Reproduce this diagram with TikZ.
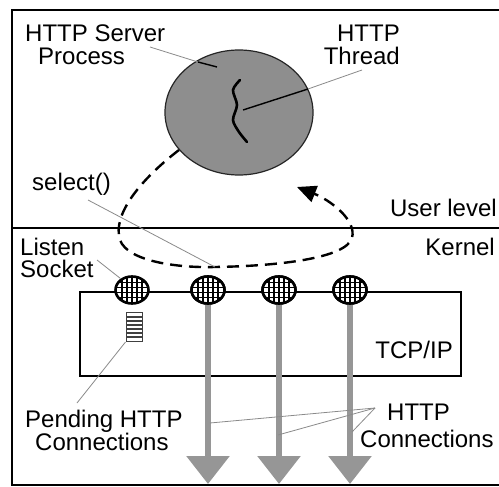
\documentclass[tikz,border=0pt]{standalone}
\usepackage{fontspec}
\setmainfont{Liberation Sans}
\usetikzlibrary{shapes.geometric,arrows.meta}
\definecolor{procgray}{HTML}{8E8E8E}
\definecolor{conngray}{HTML}{969696}
\definecolor{leadgray}{HTML}{8A8A8A}
\newcommand\lblfont{\fontsize{24}{24}\selectfont}
\begin{document}
\begin{tikzpicture}[x=1pt,y=-1pt,
  frameline/.style={line width=2.6pt},
  lbl/.style={font=\lblfont, inner sep=0pt},
  leader/.style={draw=leadgray, line width=0.8pt},
  darklead/.style={draw=black, line width=1.4pt},
  procblob/.style={ellipse, draw=black!85, line width=1.2pt, fill=procgray,
    minimum width=148pt, minimum height=125pt, inner sep=0pt},
  socket/.style={ellipse, draw=black, line width=2.6pt, fill=white,
    minimum width=33pt, minimum height=27pt, inner sep=0pt,
    path picture={
      \foreach \d in {-10,-5,0,5,10}
        \draw[line width=1.6pt] ([xshift=\d pt]path picture bounding box.north)
          -- ([xshift=\d pt]path picture bounding box.south);
      \foreach \d in {-7.5,-2.5,2.5,7.5}
        \draw[line width=1.6pt] ([yshift=\d pt]path picture bounding box.west)
          -- ([yshift=\d pt]path picture bounding box.east);
    }},
  queue/.style={rectangle, draw=black!75, line width=1pt, fill=white,
    minimum width=16pt, minimum height=29pt, inner sep=0pt,
    path picture={
      \foreach \d in {-10,-6,-2,2,6,10}
        \draw[line width=1.1pt] ([yshift=\d pt]path picture bounding box.west)
          -- ([yshift=\d pt]path picture bounding box.east);
    }},
  tcpbox/.style={rectangle, draw=black, line width=2.6pt,
    minimum width=381pt, minimum height=84pt, inner sep=0pt},
  connarrow/.style={draw=conngray, line width=6pt,
    -{Triangle[width=42pt,length=28pt]}},
  loopline/.style={line width=2.4pt, dash pattern=on 12pt off 7pt,
    -{Triangle[width=17pt,length=19pt]}}
]
\useasboundingbox (0,0) rectangle (499,487);
\fill[white] (0,0) rectangle (499,487);
\clip (0,0) rectangle (499,487);

% outer frame and the user/kernel boundary
\draw[frameline] (505,10) -- (12,10) -- (12,485) -- (505,485);
\draw[line width=2.8pt] (12,228) -- (505,228);

% server process with its thread
\node[procblob] (proc) at (239,112.5) {};
\draw[line width=2.6pt, line cap=round]
  plot[smooth] coordinates {(240,80) (233,90) (237,105) (233,120) (239,132) (247,142)};

% labels in user space
\node[lbl, anchor=base west] (srvA) at (25,42) {HTTP Server};
\node[lbl, anchor=base west] (srvB) at (38,65) {Process};
\node[lbl, anchor=base east] (thrA) at (400,42) {HTTP};
\node[lbl, anchor=base east] (thrB) at (400,65) {Thread};
\node[lbl, anchor=base west] (sel) at (32,191) {select()};
\node[lbl, anchor=base east] (user) at (497,217) {User level};
\node[lbl, anchor=base east] (kern) at (495,255) {Kernel};

% leaders in user space
\coordinate (srvL) at (150,47);
\coordinate (srvM) at (198,62);
\coordinate (srvE) at (217,67);
\draw[leader] (srvL) -- (srvM);
\draw[darklead] (srvM) -- (srvE);
\coordinate (thrS) at (243,110);
\coordinate (thrM) at (308,89);
\coordinate (thrE) at (362,70);
\draw[darklead] (thrS) -- (thrM);
\draw[leader] (thrM) -- (thrE);

% kernel side: TCP/IP box
\node[tcpbox] (tcp) at (270.5,334) {};
\node[lbl, anchor=base east] (tcplbl) at (453,358) {TCP/IP};

% connection streams leaving the sockets
\coordinate (e2) at (208,484);
\coordinate (e3) at (279,484);
\coordinate (e4) at (350,484);
\node[socket] (s1) at (132,290) {};
\node[socket] (s2) at (208,290) {};
\node[socket] (s3) at (279,290) {};
\node[socket] (s4) at (350,290) {};
\draw[connarrow] (s2.south) -- (e2);
\draw[connarrow] (s3.south) -- (e3);
\draw[connarrow] (s4.south) -- (e4);
\node[socket] at (208,290) {};
\node[socket] at (279,290) {};
\node[socket] at (350,290) {};

% backlog of pending connections
\node[queue] (q) at (134,327) {};

% the select() loop
\coordinate (loopL) at (120,240);
\coordinate (loopB) at (215,267);
\coordinate (loopR) at (352,238);
\coordinate (loopT) at (297,187);
\draw[loopline] (proc.212) .. controls (140,180) and (112,215) .. (loopL)
  .. controls (128,262) and (180,268) .. (loopB)
  .. controls (280,266) and (346,258) .. (loopR)
  .. controls (357,220) and (330,200) .. (loopT);

% kernel labels
\node[lbl, anchor=base west] (lisA) at (20,255) {Listen};
\node[lbl, anchor=base west] (lisB) at (20,277) {Socket};
\node[lbl, anchor=base west] (pendA) at (25,427) {Pending HTTP};
\node[lbl, anchor=base west] (pendB) at (35,450) {Connections};
\node[lbl, anchor=base west] (conA) at (387,420) {HTTP};
\node[lbl, anchor=base west] (conB) at (360,447) {Connections};

% leaders in kernel space
\coordinate (selL) at (88,200);
\draw[leader] (selL) -- (loopB);
\coordinate (lisL) at (97,260);
\draw[leader] (lisL) -- (s1.135);
\coordinate (pendL) at (77,403);
\draw[leader] (q.south west) -- (pendL);
\coordinate (conL) at (375,408);
\coordinate (c2) at (210,423);
\coordinate (c3) at (278,435);
\coordinate (c4) at (352,432);
\draw[leader] (conL) -- (c2);
\draw[leader] (conL) -- (c3);
\draw[leader] (conL) -- (c4);
\end{tikzpicture}
\end{document}
